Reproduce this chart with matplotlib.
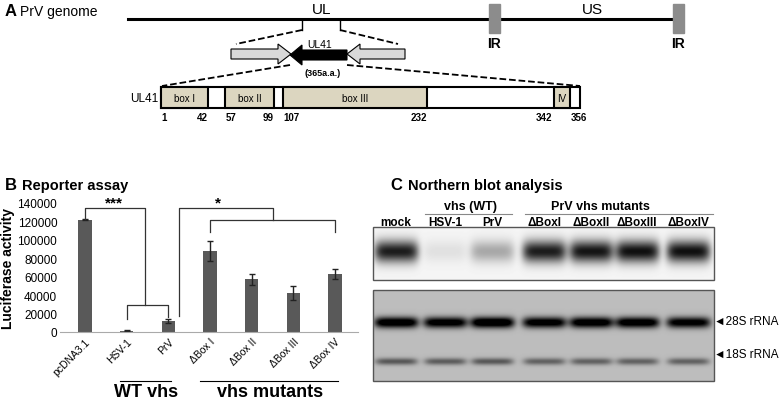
import numpy as np
import matplotlib
matplotlib.use("Agg")
import matplotlib.pyplot as plt
from matplotlib.patches import Rectangle, Polygon

plt.rcParams['font.family'] = 'Liberation Sans'

# ---- data ----
categories = ["pcDNA3.1", "HSV-1", "PrV", "\u0394Box I", "\u0394Box II", "\u0394Box III", "\u0394Box IV"]
luciferase = [122000, 1500, 12000, 88000, 57000, 42000, 63000]
errors = [800, 500, 2500, 11000, 6000, 7500, 5500]
yticks = [0, 20000, 40000, 60000, 80000, 100000, 120000, 140000]

lanes = ["mock", "HSV-1", "PrV", "\u0394BoxI", "\u0394BoxII", "\u0394BoxIII", "\u0394BoxIV"]
vhs_signal = [0.85, 0.08, 0.3, 0.85, 0.88, 0.9, 0.9]
rrna_28s = [0.9, 0.85, 0.95, 0.85, 0.88, 0.88, 0.82]
rrna_18s = [0.4, 0.38, 0.4, 0.36, 0.36, 0.36, 0.36]

box_names = ["box I", "box II", "box III", "IV"]
box_starts = [1, 57, 107, 342]
box_ends = [42, 99, 232, 356]

fig = plt.figure(figsize=(7.8, 4.02), dpi=100)
ov = fig.add_axes([0, 0, 1, 1])
ov.set_xlim(0, 780); ov.set_ylim(402, 0); ov.axis('off')

# ---- Panel A ----
ov.text(5, 12, "A", fontsize=12, fontweight='bold', va='center')
ov.text(20, 12, "PrV genome", fontsize=10, va='center')
ov.plot([128, 678], [20, 20], color='black', lw=2.2)
for x in (489, 673):
    ov.add_patch(Rectangle((x, 5), 11, 29, color='#8c8c8c', zorder=3))
    ov.text(x + 5.5, 44, "IR", fontsize=10, fontweight='bold', ha='center', va='center')
ov.text(322, 10, "UL", fontsize=11, ha='center', va='center')
ov.text(592, 10, "US", fontsize=11, ha='center', va='center')
ov.plot([302, 302], [20, 31], color='black', lw=1)
ov.plot([340, 340], [20, 31], color='black', lw=1)
ov.plot([302, 236], [31, 45], 'k--', lw=1.3)
ov.plot([340, 398], [31, 45], 'k--', lw=1.3)
ov.add_patch(Polygon([[231, 50], [278, 50], [278, 45], [291, 55], [278, 65], [278, 60], [231, 60]],
                     facecolor='#d9d9d9', edgecolor='black', lw=0.8))
ov.add_patch(Polygon([[347, 51], [302, 51], [302, 46], [290, 56], [302, 66], [302, 61], [347, 61]],
                     facecolor='black', edgecolor='black', lw=0.8))
ov.add_patch(Polygon([[405, 50], [360, 50], [360, 45], [347, 55], [360, 65], [360, 60], [405, 60]],
                     facecolor='#d9d9d9', edgecolor='black', lw=0.8))
ov.text(320, 45, "UL41", fontsize=7.5, ha='center', va='center')
ov.text(323, 73, "(365a.a.)", fontsize=6.5, fontweight='bold', ha='center', va='center')
ov.plot([290, 162], [66, 87], 'k--', lw=1.3)
ov.plot([347, 580], [66, 87], 'k--', lw=1.3)

x0, x1 = 161, 580
scale = (x1 - x0) / 364.0
ov.add_patch(Rectangle((x0, 88), x1 - x0, 21, facecolor='white', edgecolor='black', lw=1.5))
for i, (n, s, e) in enumerate(zip(box_names, box_starts, box_ends)):
    xs = x0 + (s - 1) * scale
    xe = x0 + (e - 1) * scale
    ov.add_patch(Rectangle((xs, 88), xe - xs, 21, facecolor='#dcd6c0', edgecolor='black', lw=1.5))
    ov.text((xs + xe) / 2, 98.5, n, fontsize=7, ha='center', va='center')
    last = i == len(box_names) - 1
    ov.text(xs - 1 if last else xs, 118, str(s), fontsize=7, fontweight='bold',
            ha='right' if last else 'left', va='center')
    ov.text(xe + 1 if last else xe, 118, str(e), fontsize=7, fontweight='bold',
            ha='left' if last else 'right', va='center')
ov.text(158, 98.5, "UL41", fontsize=8.5, ha='right', va='center')

# ---- Panel B ----
ov.text(5, 186, "B", fontsize=12, fontweight='bold', va='center')
ov.text(22, 186, "Reporter assay", fontsize=10.5, fontweight='bold', va='center')
ax = fig.add_axes([60/780, 1 - 333/402, (358-60)/780, (333-204)/402])
pos = np.arange(len(categories))
ax.bar(pos, luciferase, width=0.32, color='#595959', yerr=errors, capsize=2.5,
       error_kw=dict(lw=1, ecolor='#222222'))
ax.set_xlim(-0.6, 6.55); ax.set_ylim(0, 140000)
ax.set_yticks(yticks)
ax.set_yticklabels([str(v) for v in yticks], fontsize=8.5)
ax.set_xticks(pos)
ax.set_xticklabels(categories, rotation=45, ha='right', rotation_mode='anchor', fontsize=7.5)
ax.set_ylabel("Luciferase activity", fontsize=10, fontweight='bold', labelpad=2)
for s in ('top', 'right', 'left'):
    ax.spines[s].set_visible(False)
ax.spines['bottom'].set_color('#aaaaaa')
ax.tick_params(axis='y', length=0, pad=2)
ax.tick_params(axis='x', length=0, pad=3)
ax.set_facecolor('none')
k = dict(color='#333333', lw=0.9, clip_on=False)
ax.plot([1, 1, 2, 2], [14000, 29300, 29300, 16000], **k)
ax.plot([1.45, 1.45, 0, 0], [29300, 135000, 135000, 123000], **k)
ax.text(0.7, 133000, "***", fontsize=11, fontweight='bold', ha='center', va='bottom')
ax.plot([2.25, 2.25, 4.5, 4.5], [17000, 135000, 135000, 121500], **k)
ax.plot([3, 3, 6, 6], [109000, 121500, 121500, 109000], **k)
ax.text(3.2, 133000, "*", fontsize=11, fontweight='bold', ha='center', va='bottom')
ov.plot([120, 171], [382, 382], color='black', lw=0.8)
ov.plot([200, 338], [382, 382], color='black', lw=0.8)
ov.text(146, 393, "WT vhs", fontsize=13, fontweight='bold', ha='center', va='center')
ov.text(270, 393, "vhs mutants", fontsize=13, fontweight='bold', ha='center', va='center')

# ---- Panel C ----
ov.text(390, 186, "C", fontsize=12, fontweight='bold', va='center')
ov.text(408, 186, "Northern blot analysis", fontsize=10.5, fontweight='bold', va='center')
lane_x = [396, 445, 492, 544, 591, 637, 688]
ov.text(471, 207, "vhs (WT)", fontsize=9, fontweight='bold', ha='center', va='center')
ov.plot([425, 512], [215, 215], color='#888888', lw=0.8)
ov.text(600, 207, "PrV vhs mutants", fontsize=9, fontweight='bold', ha='center', va='center')
ov.plot([525, 713], [215, 215], color='#888888', lw=0.8)
for lx, ln in zip(lane_x, lanes):
    ov.text(lx, 223, ln, fontsize=8.5, fontweight='bold', ha='center', va='center')

def blot(y0, y1, bg, bands):
    W, H = 341, int(y1 - y0)
    xs = np.arange(W)[None, :] + 373
    ys = np.arange(H)[:, None] + y0
    img = np.full((H, W), bg, dtype=float)
    for yc, ht, wd, vals in bands:
        for lx, v in zip(lane_x, vals):
            g = np.exp(-((ys - yc) / ht) ** 2) * np.exp(-((xs - lx) / wd) ** 6)
            img -= v * g
    img = np.clip(img, 0, 1)
    ov.imshow(img, cmap='gray', vmin=0, vmax=1, extent=(373, 714, y1, y0), aspect='auto', zorder=2)
    ov.add_patch(Rectangle((373, y0), 341, y1 - y0, fill=False, edgecolor='#555555', lw=1, zorder=3))

blot(228, 281, 0.96, [(252, 11, 22, vhs_signal)])
blot(291, 382, 0.74, [(323, 5.5, 22, rrna_28s), (362, 3.5, 21, rrna_18s)])
ov.text(714, 322, "\u25c428S rRNA", fontsize=8.5, va='center')
ov.text(714, 355, "\u25c418S rRNA", fontsize=8.5, va='center')
ov.set_xlim(0, 780); ov.set_ylim(402, 0)

fig.savefig("out.png", dpi=100)
